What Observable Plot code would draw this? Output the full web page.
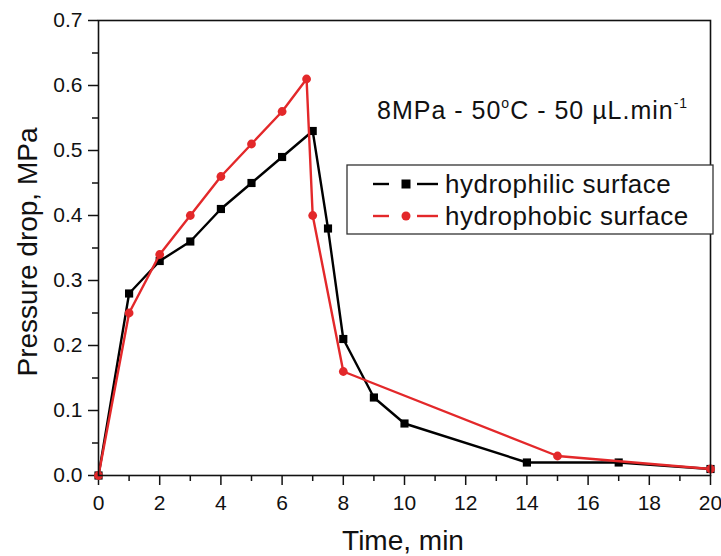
<!DOCTYPE html>
<html><head><meta charset="utf-8">
<script src="https://cdn.jsdelivr.net/npm/d3@7"></script>
<script src="https://cdn.jsdelivr.net/npm/@observablehq/plot@0.6"></script>
<style>
body{margin:0;background:#fff;font-family:"Liberation Sans",Arial,sans-serif;}
</style></head>
<body><div id="chart"></div>
<script>
const seriesNames = ["hydrophilic surface", "hydrophobic surface"];
const philicTime = [0, 1, 2, 3, 4, 5, 6, 7, 7.5, 8, 9, 10, 14, 17, 20];
const philicDrop = [0, 0.28, 0.33, 0.36, 0.41, 0.45, 0.49, 0.53, 0.38, 0.21, 0.12, 0.08, 0.02, 0.02, 0.01];
const phobicTime = [0, 1, 2, 3, 4, 5, 6, 6.8, 7, 8, 15, 20];
const phobicDrop = [0, 0.25, 0.34, 0.40, 0.46, 0.51, 0.56, 0.61, 0.40, 0.16, 0.03, 0.01];
const xTicks = [0, 2, 4, 6, 8, 10, 12, 14, 16, 18, 20];
const xMinor = [1, 3, 5, 7, 9, 11, 13, 15, 17, 19];
const yTicks = [0, 0.1, 0.2, 0.3, 0.4, 0.5, 0.6, 0.7];
const yMinor = [0.05, 0.15, 0.25, 0.35, 0.45, 0.55, 0.65];
const xTitle = "Time, min";
const yTitle = "Pressure drop, MPa";

const RED = "#e3282a";
const philic = philicTime.map((t, i) => ({t, p: philicDrop[i]}));
const phobic = phobicTime.map((t, i) => ({t, p: phobicDrop[i]}));

const plot = Plot.plot({
  width: 721, height: 556,
  marginLeft: 98, marginRight: 11, marginTop: 20, marginBottom: 81,
  style: {fontFamily: "Liberation Sans, Arial, sans-serif", background: "#fff", color: "#111", fontSize: "21px"},
  x: {domain: [0, 20]},
  y: {domain: [0, 0.7]},
  marks: [
    Plot.axisX(xTicks, {tickSize: 10, tickPadding: 10, fontSize: 21, label: null, strokeWidth: 1.5}),
    Plot.axisX(xMinor, {tickSize: 6, tickFormat: () => "", label: null, strokeWidth: 1.5}),
    Plot.axisY(yTicks, {tickSize: 10, tickPadding: 6, fontSize: 21, label: null, tickFormat: d3.format(".1f"), strokeWidth: 1.5}),
    Plot.axisY(yMinor, {tickSize: 6, tickFormat: () => "", label: null, strokeWidth: 1.5}),
    Plot.line(philic, {x: "t", y: "p", stroke: "#000", strokeWidth: 2.4}),
    Plot.dot(philic, {x: "t", y: "p", symbol: "square", r: 4.6, fill: "#000"}),
    Plot.line(phobic, {x: "t", y: "p", stroke: RED, strokeWidth: 2.4}),
    Plot.dot(phobic, {x: "t", y: "p", symbol: "circle", r: 4.4, fill: RED}),
    Plot.frame({stroke: "#111", strokeWidth: 1.6})
  ]
});
document.getElementById("chart").appendChild(plot);

const svg = d3.select(plot);
const F = "Liberation Sans, Arial, sans-serif";
// axis titles
svg.append("text").attr("x", 403).attr("y", 550).attr("text-anchor", "middle")
  .attr("font-size", 28).attr("font-family", F).attr("fill", "#111").text(xTitle);
svg.append("text").attr("transform", "translate(37,252) rotate(-90)").attr("text-anchor", "middle")
  .attr("font-size", 28).attr("font-family", F).attr("fill", "#111").text(yTitle);

// annotation
const ann = svg.append("text").attr("x", 377).attr("y", 119).attr("font-size", 25)
  .attr("text-anchor", "start").attr("letter-spacing", 1)
  .attr("font-family", F).attr("fill", "#111");
ann.append("tspan").text("8MPa - 50");
ann.append("tspan").attr("font-size", 14).attr("dy", -11).text("o");
ann.append("tspan").attr("dy", 11).text("C - 50 \u00B5L.min");
ann.append("tspan").attr("font-size", 14).attr("dy", -11).text("-1");

// legend
const lg = svg.append("g");
lg.append("rect").attr("x", 347).attr("y", 165).attr("width", 366).attr("height", 69)
  .attr("fill", "#fff").attr("stroke", "#333").attr("stroke-width", 1.3);
const rows = [{y: 184, c: "#000", sym: "square"}, {y: 216, c: RED, sym: "circle"}];
rows.forEach((r, i) => {
  lg.append("line").attr("x1", 373).attr("x2", 389).attr("y1", r.y).attr("y2", r.y).attr("stroke", r.c).attr("stroke-width", 2.4);
  lg.append("line").attr("x1", 417).attr("x2", 438).attr("y1", r.y).attr("y2", r.y).attr("stroke", r.c).attr("stroke-width", 2.4);
  if (r.sym === "square") lg.append("rect").attr("x", 401.5).attr("y", r.y - 4.5).attr("width", 9).attr("height", 9).attr("fill", r.c);
  else lg.append("circle").attr("cx", 406).attr("cy", r.y).attr("r", 4.5).attr("fill", r.c);
  lg.append("text").attr("x", 445).attr("y", r.y + 9).attr("font-size", 26).attr("letter-spacing", 0.5)
    .attr("text-anchor", "start").attr("font-family", F)
    .attr("fill", "#111").text(seriesNames[i]);
});
</script></body></html>
